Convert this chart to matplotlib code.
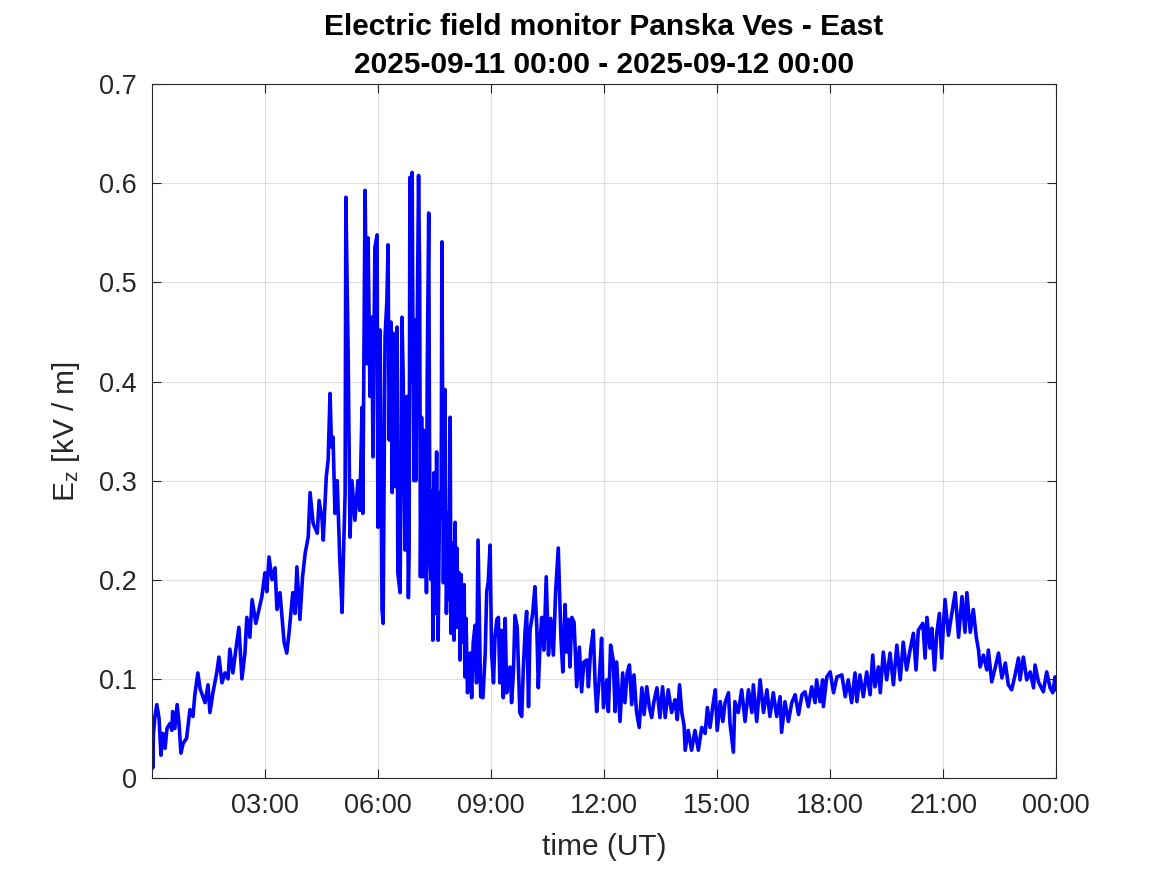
import matplotlib
matplotlib.use("Agg")
import matplotlib.pyplot as plt

# E-field trace, hours since 2025-09-11 00:00 UT and Ez in kV/m
t_hours = [
    0.00, 0.01, 0.03, 0.07, 0.12, 0.18, 0.23, 0.28, 0.34, 0.39, 0.47, 0.52, 0.54, 0.60, 0.66, 0.71,
    0.76, 0.82, 0.91, 1.00, 1.08, 1.13, 1.21, 1.27, 1.40, 1.48, 1.53, 1.61, 1.71, 1.77, 1.85, 1.93,
    2.01, 2.06, 2.14, 2.22, 2.30, 2.38, 2.46, 2.51, 2.59, 2.65, 2.75, 2.91, 2.99, 3.04, 3.10, 3.18,
    3.26, 3.31, 3.39, 3.45, 3.50, 3.57, 3.63, 3.73, 3.79, 3.84, 3.92, 3.99, 4.06, 4.14, 4.19, 4.27,
    4.38, 4.43, 4.51, 4.54, 4.62, 4.67, 4.72, 4.76, 4.80, 4.85, 4.91, 4.98, 5.04, 5.06, 5.12, 5.14,
    5.20, 5.25, 5.30, 5.38, 5.46, 5.51, 5.57, 5.59, 5.65, 5.70, 5.73, 5.78, 5.83, 5.86, 5.91, 5.97,
    5.99, 6.05, 6.10, 6.13, 6.18, 6.23, 6.26, 6.29, 6.34, 6.37, 6.39, 6.45, 6.50, 6.52, 6.58, 6.63,
    6.66, 6.71, 6.76, 6.80, 6.82, 6.84, 6.87, 6.90, 6.92, 6.95, 6.98, 7.00, 7.03, 7.07, 7.10, 7.12,
    7.15, 7.18, 7.20, 7.23, 7.26, 7.28, 7.30, 7.34, 7.36, 7.38, 7.40, 7.43, 7.45, 7.48, 7.51, 7.55,
    7.59, 7.63, 7.67, 7.69, 7.73, 7.77, 7.81, 7.85, 7.88, 7.91, 7.93, 7.96, 7.99, 8.01, 8.04, 8.07,
    8.09, 8.12, 8.15, 8.17, 8.20, 8.25, 8.28, 8.30, 8.33, 8.37, 8.44, 8.48, 8.52, 8.57, 8.61, 8.65,
    8.72, 8.78, 8.84, 8.88, 8.92, 8.97, 9.01, 9.06, 9.10, 9.15, 9.19, 9.23, 9.28, 9.32, 9.37, 9.41,
    9.45, 9.50, 9.54, 9.59, 9.63, 9.69, 9.76, 9.81, 9.85, 9.90, 9.94, 9.99, 10.03, 10.10, 10.16, 10.21,
    10.25, 10.30, 10.34, 10.40, 10.46, 10.52, 10.58, 10.65, 10.71, 10.78, 10.85, 10.90, 10.96, 11.01, 11.05, 11.09,
    11.14, 11.20, 11.27, 11.34, 11.40, 11.46, 11.54, 11.58, 11.64, 11.71, 11.76, 11.80, 11.87, 11.93, 11.98, 12.07,
    12.11, 12.17, 12.24, 12.29, 12.33, 12.42, 12.49, 12.55, 12.61, 12.67, 12.73, 12.79, 12.86, 12.93, 13.00, 13.06,
    13.13, 13.20, 13.26, 13.32, 13.40, 13.48, 13.55, 13.62, 13.70, 13.79, 13.88, 13.94, 14.00, 14.06, 14.12, 14.15,
    14.23, 14.32, 14.41, 14.50, 14.59, 14.68, 14.74, 14.81, 14.90, 14.95, 15.00, 15.08, 15.15, 15.21, 15.30, 15.34,
    15.43, 15.47, 15.56, 15.65, 15.74, 15.83, 15.92, 15.96, 16.05, 16.14, 16.23, 16.32, 16.40, 16.49, 16.58, 16.67,
    16.71, 16.80, 16.89, 16.98, 17.07, 17.16, 17.25, 17.33, 17.42, 17.51, 17.60, 17.64, 17.73, 17.80, 17.82, 17.91,
    18.00, 18.09, 18.18, 18.31, 18.40, 18.48, 18.57, 18.66, 18.71, 18.79, 18.88, 18.97, 19.06, 19.13, 19.19, 19.28,
    19.33, 19.41, 19.50, 19.59, 19.68, 19.77, 19.86, 19.94, 20.03, 20.12, 20.21, 20.28, 20.34, 20.46, 20.52, 20.57,
    20.65, 20.70, 20.77, 20.83, 20.90, 20.96, 21.01, 21.05, 21.14, 21.23, 21.32, 21.41, 21.50, 21.58, 21.63, 21.72,
    21.80, 21.88, 21.94, 21.98, 22.07, 22.16, 22.20, 22.29, 22.38, 22.47, 22.56, 22.65, 22.73, 22.82, 22.91, 23.00,
    23.04, 23.13, 23.22, 23.31, 23.40, 23.44, 23.53, 23.66, 23.75, 23.84, 23.91, 23.97, 24.00,
]
ez_kv = [
    0.030, 0.010, 0.045, 0.062, 0.074, 0.060, 0.023, 0.045, 0.030, 0.050, 0.055, 0.048, 0.067, 0.050, 0.074, 0.055,
    0.025, 0.035, 0.040, 0.069, 0.062, 0.084, 0.106, 0.090, 0.076, 0.094, 0.066, 0.086, 0.106, 0.122, 0.096, 0.106,
    0.100, 0.130, 0.106, 0.130, 0.152, 0.100, 0.126, 0.162, 0.142, 0.180, 0.156, 0.183, 0.207, 0.188, 0.223, 0.200,
    0.212, 0.170, 0.187, 0.160, 0.137, 0.126, 0.146, 0.187, 0.166, 0.213, 0.160, 0.203, 0.227, 0.243, 0.288, 0.257,
    0.247, 0.280, 0.260, 0.240, 0.304, 0.321, 0.388, 0.334, 0.344, 0.267, 0.300, 0.220, 0.167, 0.200, 0.288, 0.586,
    0.430, 0.243, 0.300, 0.260, 0.300, 0.270, 0.374, 0.267, 0.593, 0.418, 0.545, 0.385, 0.465, 0.324, 0.535, 0.548,
    0.253, 0.452, 0.170, 0.156, 0.445, 0.482, 0.538, 0.341, 0.460, 0.288, 0.449, 0.294, 0.455, 0.207, 0.187, 0.465,
    0.409, 0.230, 0.385, 0.182, 0.230, 0.606, 0.400, 0.611, 0.450, 0.300, 0.462, 0.300, 0.435, 0.608, 0.505, 0.203,
    0.364, 0.203, 0.351, 0.215, 0.314, 0.187, 0.405, 0.570, 0.348, 0.217, 0.200, 0.290, 0.139, 0.308, 0.166, 0.329,
    0.139, 0.288, 0.263, 0.541, 0.197, 0.392, 0.166, 0.267, 0.180, 0.364, 0.146, 0.200, 0.237, 0.139, 0.258, 0.152,
    0.232, 0.152, 0.207, 0.119, 0.205, 0.137, 0.195, 0.102, 0.161, 0.086, 0.126, 0.081, 0.136, 0.154, 0.096, 0.240,
    0.082, 0.081, 0.126, 0.188, 0.198, 0.235, 0.126, 0.096, 0.142, 0.160, 0.162, 0.096, 0.149, 0.081, 0.161, 0.086,
    0.107, 0.112, 0.076, 0.107, 0.164, 0.152, 0.066, 0.062, 0.109, 0.149, 0.168, 0.072, 0.149, 0.166, 0.193, 0.152,
    0.091, 0.139, 0.162, 0.129, 0.203, 0.124, 0.161, 0.124, 0.188, 0.232, 0.142, 0.107, 0.175, 0.127, 0.160, 0.112,
    0.162, 0.157, 0.092, 0.132, 0.087, 0.117, 0.119, 0.092, 0.129, 0.149, 0.094, 0.067, 0.101, 0.141, 0.071, 0.099,
    0.067, 0.134, 0.119, 0.067, 0.117, 0.057, 0.106, 0.076, 0.106, 0.114, 0.074, 0.104, 0.066, 0.051, 0.091, 0.064,
    0.092, 0.071, 0.061, 0.077, 0.091, 0.061, 0.092, 0.061, 0.089, 0.066, 0.079, 0.059, 0.094, 0.066, 0.053, 0.028,
    0.048, 0.028, 0.048, 0.028, 0.051, 0.045, 0.071, 0.051, 0.077, 0.089, 0.048, 0.077, 0.057, 0.076, 0.086, 0.055,
    0.026, 0.077, 0.066, 0.089, 0.057, 0.089, 0.066, 0.094, 0.057, 0.099, 0.066, 0.089, 0.062, 0.086, 0.062, 0.082,
    0.046, 0.077, 0.057, 0.076, 0.084, 0.064, 0.084, 0.087, 0.072, 0.092, 0.076, 0.099, 0.077, 0.099, 0.072, 0.102,
    0.107, 0.086, 0.102, 0.104, 0.082, 0.099, 0.076, 0.106, 0.077, 0.104, 0.082, 0.107, 0.084, 0.124, 0.092, 0.112,
    0.086, 0.127, 0.099, 0.126, 0.094, 0.134, 0.099, 0.137, 0.109, 0.129, 0.146, 0.109, 0.149, 0.156, 0.121, 0.162,
    0.131, 0.151, 0.109, 0.146, 0.166, 0.121, 0.156, 0.180, 0.144, 0.166, 0.187, 0.142, 0.183, 0.147, 0.187, 0.147,
    0.170, 0.142, 0.129, 0.112, 0.124, 0.109, 0.129, 0.097, 0.111, 0.126, 0.101, 0.116, 0.094, 0.089, 0.104, 0.121,
    0.099, 0.122, 0.099, 0.107, 0.091, 0.114, 0.097, 0.087, 0.107, 0.091, 0.086, 0.102, 0.089,
]

xtick_hours = [3, 6, 9, 12, 15, 18, 21, 24]
xtick_labels = ["03:00", "06:00", "09:00", "12:00", "15:00", "18:00", "21:00", "00:00"]
ytick_vals = [0, 0.1, 0.2, 0.3, 0.4, 0.5, 0.6, 0.7]
ytick_labels = ["0", "0.1", "0.2", "0.3", "0.4", "0.5", "0.6", "0.7"]

plt.rcParams['font.family'] = ['Liberation Sans', 'DejaVu Sans']
axis_col = '#262626'

fig = plt.figure(figsize=(11.67, 8.75), dpi=100)
ax = fig.add_axes([0.1305, 0.1109, 0.7745, 0.7928])

ax.plot(t_hours, ez_kv, color=(0, 0, 1), lw=2.6)

ax.set_xlim(0, 24)
ax.set_ylim(0, 0.7)
ax.set_xticks(xtick_hours)
ax.set_xticklabels(xtick_labels)
ax.set_yticks(ytick_vals)
ax.set_yticklabels(ytick_labels)
ax.grid(True, color=axis_col, alpha=0.15, lw=0.8)
ax.set_axisbelow(True)
ax.tick_params(direction='in', length=6.5, width=0.8, top=True, right=True,
               labelsize=19.5, colors=axis_col, pad=11)
for s in ax.spines.values():
    s.set_color(axis_col)
    s.set_linewidth(0.8)

ax.set_xlabel("time (UT)", fontsize=21.5, color=axis_col, labelpad=10)
ax.set_ylabel(r"$\mathregular{E_z}$ [kV / m]", fontsize=21.5, color=axis_col, labelpad=12)

fig.text(0.5175, 1 - 27 / 875, "Electric field monitor Panska Ves - East",
         ha='center', va='center', fontsize=21.5, fontweight='bold')
fig.text(0.5175, 1 - 65 / 875, "2025-09-11 00:00 - 2025-09-12 00:00",
         ha='center', va='center', fontsize=21.5, fontweight='bold')

fig.savefig("out.png", dpi=100)
